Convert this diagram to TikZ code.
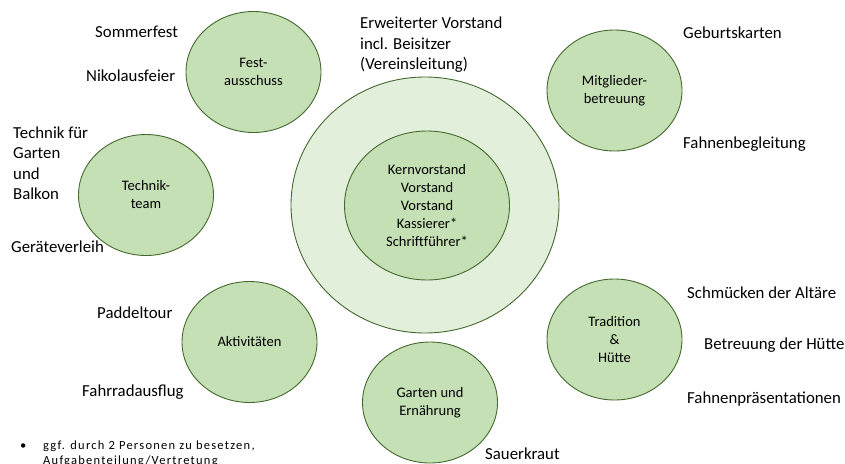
\documentclass[tikz,border=0pt]{standalone}
\usepackage{fontspec}
\setmainfont{Carlito}
\newfontfamily\fnfont[LetterSpace=10]{Carlito}
\usetikzlibrary{shapes.geometric}
\definecolor{stroke}{HTML}{44692E}
\definecolor{bubble}{HTML}{C5E0B4}
\definecolor{outerfill}{HTML}{E2EFDA}
\tikzset{
  bubble/.style={ellipse, draw=stroke, line width=0.9pt, fill=bubble, inner sep=0pt,
    minimum width=135pt, minimum height=121pt, align=center,
    font=\fontsize{14.5}{18}\selectfont},
  lbl/.style={anchor=base west, inner sep=0pt, font=\fontsize{16.8}{20.5}\selectfont},
  lblblock/.style={anchor=west, inner sep=0pt, align=left, font=\fontsize{16.8}{20.5}\selectfont},
}
\begin{document}
\begin{tikzpicture}[x=1pt,y=-1pt]
\useasboundingbox (0,0) rectangle (845,463);
% central circles
\node[ellipse, draw=stroke, line width=0.9pt, fill=outerfill, minimum width=268pt, minimum height=256pt] (outer) at (425,205) {};
\node[bubble, minimum width=165pt, minimum height=149pt] (inner) at (427,205.5)
  {Kernvorstand\\Vorstand\\Vorstand\\Kassierer*\\Schriftführer*};
% satellite circles
\node[bubble] (fest) at (253.5,72) {Fest-\\ausschuss};
\node[bubble] (technik) at (146,195) {Technik-\\team};
\node[bubble] (mitglieder) at (614.5,90.5) {Mitglieder-\\betreuung};
\node[bubble] (tradition) at (614.5,339.5) {Tradition\\\&\\Hütte};
\node[bubble] (aktiv) at (249.5,342) {Aktivitäten};
\node[bubble] (garten) at (430,402.5) {Garten und\\Ernährung};
% labels
\node[lblblock] (erw) at (360,45) {Erweiterter Vorstand\\incl. Beisitzer\\(Vereinsleitung)};
\node[lbl] (sommer) at (95,37.5) {Sommerfest};
\node[lbl] (nikolaus) at (86,81.5) {Nikolausfeier};
\node[lblblock] (techgarten) at (13,163) {Technik für\\Garten\\und\\Balkon};
\node[lbl] (geraete) at (11,252.5) {Geräteverleih};
\node[lbl] (geburt) at (683,38.5) {Geburtskarten};
\node[lbl] (fahnenbeg) at (683,148.5) {Fahnenbegleitung};
\node[lbl] (schmuecken) at (687,298.5) {Schmücken der Altäre};
\node[lbl] (huette) at (704,349.5) {Betreuung der Hütte};
\node[lbl] (fahnenpraes) at (687,403.5) {Fahnenpräsentationen};
\node[lbl] (paddel) at (97,318.5) {Paddeltour};
\node[lbl] (fahrrad) at (82,396.5) {Fahrradausflug};
\node[lbl] (sauer) at (485,459.5) {Sauerkraut};
% footnote
\node[anchor=base west, inner sep=0pt, font=\fontsize{12.5}{15}\selectfont] (bullet) at (20,449) {•};
\node[anchor=base west, inner sep=0pt, align=left, font=\fnfont\fontsize{12.5}{15}\selectfont] (foot) at (43,464)
  {ggf. durch 2 Personen zu besetzen,\\Aufgabenteilung/Vertretung};
\end{tikzpicture}
\end{document}
